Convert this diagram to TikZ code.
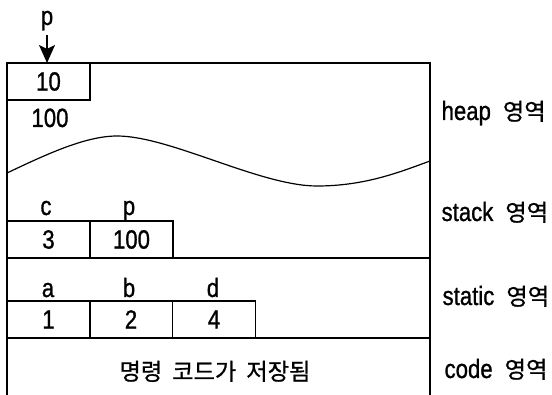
\documentclass[tikz,border=0pt]{standalone}
\usepackage{fontspec}
\setmainfont{Liberation Sans}[FakeStretch=0.84,FakeBold=1]
\newfontfamily\kr{Noto Sans CJK KR}[Scale=0.88,FakeBold=0.8]
\usepackage{tikz}
\usetikzlibrary{arrows.meta,calc}
\tikzset{
  every picture/.style = {
    x=0.5pt,
    y=-0.5pt,
    line width=0.6pt,
    font=\fontsize{13.2}{15}\selectfont
  },
  cell/.style={
    draw,
    shape = rectangle,
    inner sep = 0pt,
    outer sep = 0pt,
    minimum width = 41.5pt,
    minimum height = 18.5pt
  },
  lbl/.style={
    inner sep = 0pt,
    anchor = base
  },
  region/.style={
    inner sep = 0pt,
    anchor = base west
  }
}

\begin{document}
\begin{tikzpicture}
    \useasboundingbox (0,0) rectangle (552,395);
        % frame
        \draw (7,395)--(7,63)--(430,63)--(430,395);
        \draw (7,258)--(430,258);
        \draw (7,338)--(430,338);
        % heap
        \node[cell] (heapcell) at (48.5,81.5) {\raisebox{-1.5pt}{10}};
        \node[lbl] (ptr) at (47,25) {p};
        \draw[line width=0.9pt,-{Stealth[length=9pt,width=8pt,inset=2pt]}] ([yshift=-2pt]ptr.south) -- (ptr.south |- heapcell.north);
        \node[lbl] (heapval) at (50,127) {100};
        \draw (7,173) .. controls (45,155) and (85,136) .. (117,136)
              .. controls (170,136) and (260,186) .. (317,186)
              .. controls (365,186) and (400,172) .. (430,161);
        % stack
        \node[cell] (cval) at (48.5,239.5) {\raisebox{-1.5pt}{3}};
        \node[cell] (pval) at (131.5,239.5) {\raisebox{-1.5pt}{100}};
        \node[lbl] (cname) at (46,215) {c};
        \node[lbl] (pname) at (129,215) {p};
        % static
        \node[cell] (aval) at (48.5,319.5) {\raisebox{-1.5pt}{1}};
        \node[cell] (bval) at (131,319.5) {\raisebox{-1.5pt}{2}};
        \node[cell] (dval) at (214,319.5) {\raisebox{-1.5pt}{4}};
        \node[lbl] (aname) at (48,297) {a};
        \node[lbl] (bname) at (129,297) {b};
        \node[lbl] (dname) at (213,297) {d};
        % code
        \node[lbl] (codetext) at (215,380) {\kr 명령\hspace{5pt}코드가\hspace{5pt}저장됨};
        % region names
        \node[region] (heaplbl) at (441,120) {heap\hspace{6pt}{\kr 영역}};
        \node[region] (stacklbl) at (441,221) {stack\hspace{6pt}{\kr 영역}};
        \node[region] (staticlbl) at (442,305) {static\hspace{6pt}{\kr 영역}};
        \node[region] (codelbl) at (444,378) {code\hspace{6pt}{\kr 영역}};
\end{tikzpicture}
\end{document}
